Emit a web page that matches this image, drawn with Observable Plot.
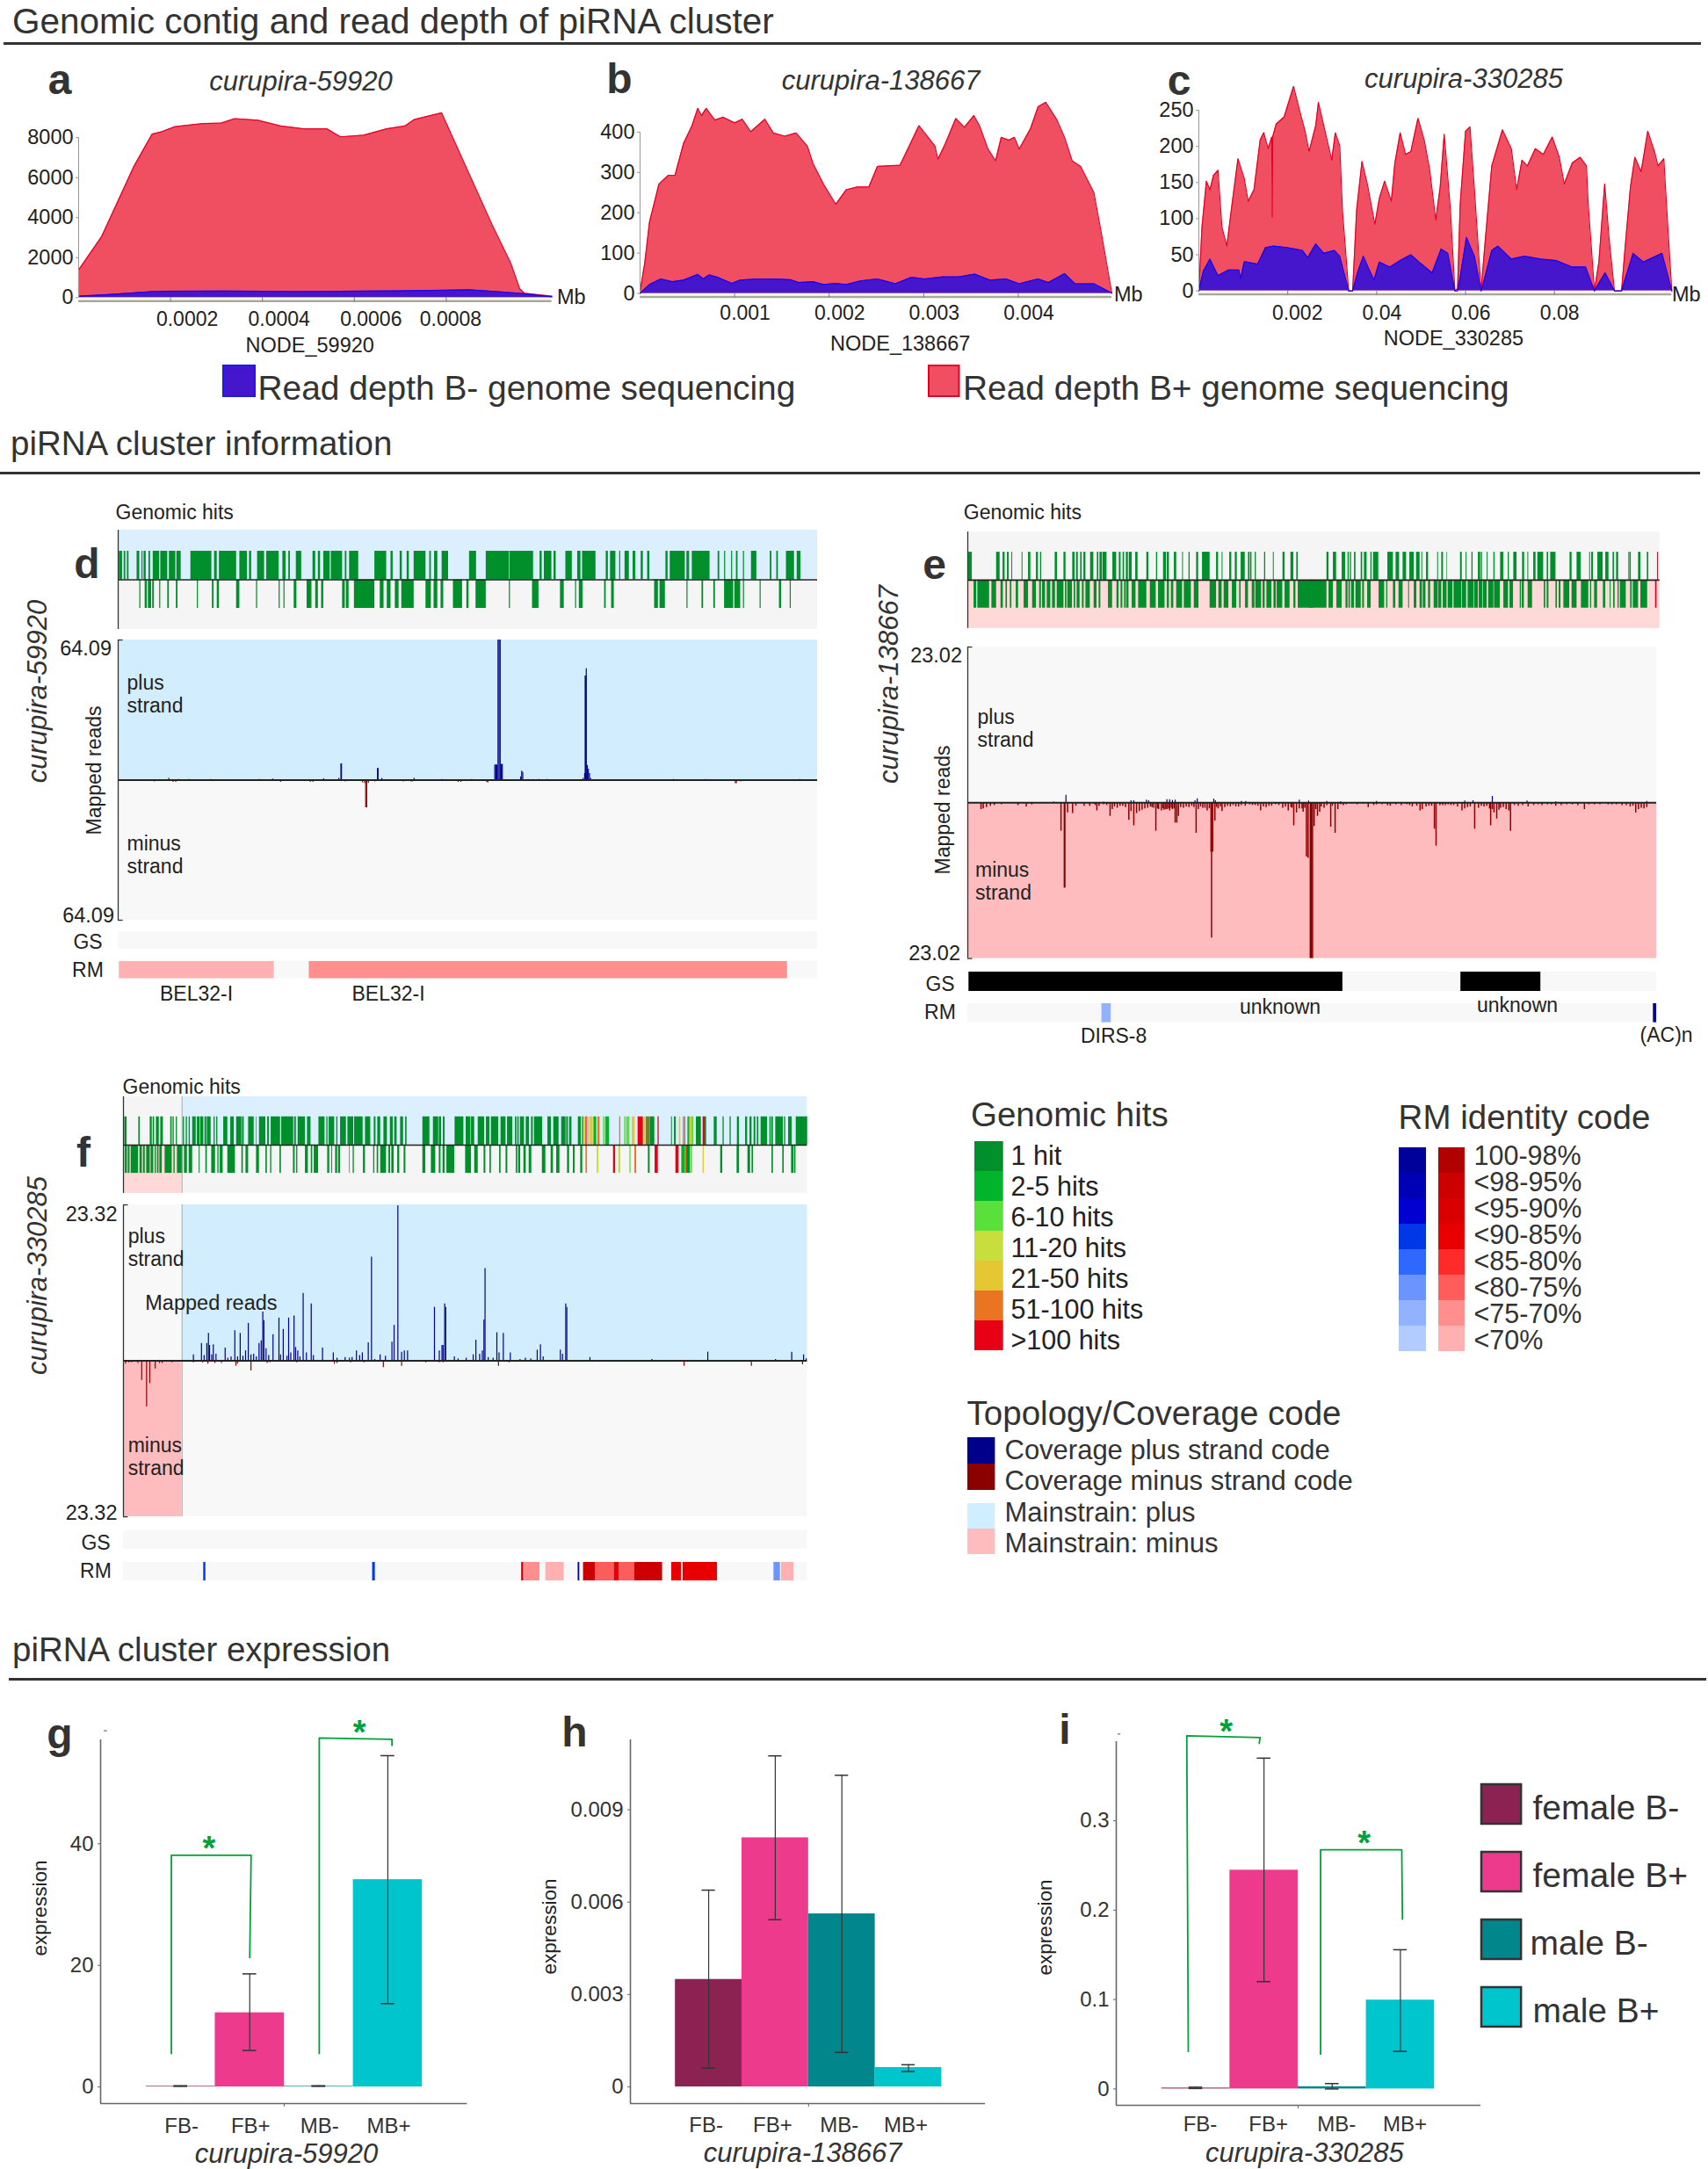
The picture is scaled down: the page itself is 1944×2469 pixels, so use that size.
<!DOCTYPE html>
<html><head><meta charset="utf-8">
<script src="https://cdn.jsdelivr.net/npm/d3@7"></script>
<script src="https://cdn.jsdelivr.net/npm/@observablehq/plot@0.6"></script>
<style>
html,body{margin:0;padding:0;background:#fff}
#page{position:relative;width:1944px;height:2469px;overflow:hidden;font-family:"Liberation Sans",Arial,sans-serif;color:#333}
.lb{position:absolute;white-space:nowrap;line-height:1}
.hr{position:absolute;background:#333}
</style></head><body><div id="page"></div>
<script>
// ---------- Read depth (panels a-c): contig position in Mb, depth
const aRedX=[0,.00005,.00012,.00016,.00018,.00021,.00027,.00031,.00034,.00039,.00044,.00049,.00054,.00057,.00062,.00067,.00071,.00073,.00079,.00084,.0009,.00094,.00096,.00097,.00103];
const aRedY=[1380,3050,6550,8175,8290,8550,8700,8730,8950,8870,8580,8440,8440,8040,8120,8440,8580,8900,9240,6690,3640,1750,440,220,70];
const aBlueX=[0,.00007,.00017,.0003,.0005,.0007,.00085,.0009,.00097,.00103];
const aBlueY=[70,160,320,330,310,340,390,320,200,40];
const bRedX=[0,.00005,.0001,.0002,.0003,.00037,.00046,.00055,.00061,.00065,.0007,.00079,.00088,.001,.00108,.00117,.00132,.00141,.00153,.00165,.00177,.00183,.00194,.00207,.00218,.0023,.00242,.00251,.00275,.00295,.00312,.00315,.00323,.00334,.00343,.00353,.00359,.00368,.00376,.00382,.0039,.00396,.00401,.00413,.00421,.00429,.00441,.00449,.00457,.00466,.0048,.00488,.00499];
const bRedY=[4,76,177,271,293,293,372,416,459,441,459,430,437,423,432,401,432,398,390,398,365,322,271,221,257,264,264,315,318,416,365,333,372,434,412,441,416,358,329,387,380,387,358,409,463,474,430,387,329,315,250,148,0];
const bBlueX=[0,.0001,.00022,.00034,.00046,.00061,.00067,.00073,.00082,.00097,.00106,.00124,.00141,.00159,.00168,.00183,.00194,.00207,.00218,.00233,.00251,.0027,.00287,.00301,.0032,.00337,.00354,.0037,.00387,.00401,.00421,.00432,.00449,.0046,.0048,.00499];
const bBlueY=[0,22,36,29,33,47,36,46,40,25,33,36,36,34,27,29,22,25,22,31,36,24,40,36,41,41,48,33,36,24,36,27,49,24,24,1];
const cRedX=[0,.0007,.0017,.0025,.0033,.0043,.0052,.0063,.0073,.0088,.0102,.0111,.0124,.0138,.0146,.0156,.0164,.0165,.0166,.0174,.0192,.0204,.0213,.0227,.0239,.0248,.0263,.0269,.0281,.0293,.0299,.0307,.0317,.0323,.0337,.0346,.0355,.0367,.0379,.0396,.0406,.0418,.0433,.0441,.0453,.0465,.0477,.0493,.0507,.0519,.0533,.0543,.0552,.0566,.0576,.0582,.0588,.06,.061,.062,.0635,.0643,.0659,.0683,.0703,.0715,.0727,.0739,.0757,.0775,.0795,.0811,.0822,.084,.0858,.0872,.0876,.089,.09,.0913,.0923,.0935,.0951,.0959,.0971,.0981,.0995,.101,.1025,.1033,.1046,.1054,.1064];
const cRedY=[0,88,152,140,160,167,88,62,112,183,156,124,140,209,219,197,213,102,213,231,241,265,283,249,221,193,229,261,229,197,181,219,201,112,0,0,112,179,148,92,128,152,124,177,219,189,193,239,209,169,98,144,217,112,0,3,120,221,227,140,0,60,173,223,197,140,181,173,197,189,213,185,148,177,185,173,120,0,40,148,72,0,0,60,144,185,165,221,193,173,183,100,0];
const cBlueX=[0,.001,.0025,.0043,.0055,.0067,.009,.0094,.0102,.0108,.0132,.015,.0168,.0198,.0233,.0245,.0263,.0281,.0305,.0317,.0337,.0346,.0358,.037,.0382,.0394,.0406,.043,.0453,.0477,.0495,.0525,.0545,.056,.0576,.0582,.0588,.0602,.062,.0635,.0642,.0659,.0673,.0703,.0733,.0769,.0804,.084,.087,.089,.0914,.0935,.0951,.0977,.1,.1042,.1064];
const cBlueY=[0,27,44,21,25,29,29,17,40,40,37,60,62,60,56,46,65,52,56,48,0,0,27,48,31,15,40,33,42,50,40,25,58,52,0,0,19,74,48,0,15,56,62,44,48,44,42,33,33,0,25,0,0,52,40,52,0];

// ---------- Genomic hits, flat start,end lists (track position units)
const dHitsPlus=[220,226,229,232,235,238,253,258,262,264,266,270,275,278,283,295,297,310,313,325,327,335,353,392,397,402,406,438,444,458,462,466,477,490,494,517,524,530,535,538,549,559,580,585,590,594,600,612,614,635,640,643,648,665,695,717,725,729,742,746,755,759,768,790,797,800,806,812,820,832,871,884,902,945,946,990,1002,1006,1010,1024,1028,1032,1050,1062,1072,1078,1081,1106,1125,1129,1133,1143,1150,1152,1160,1168,1175,1180,1190,1194,1202,1206,1236,1240,1244,1272,1275,1280,1285,1318,1333,1336,1345,1347,1358,1360,1367,1370,1380,1382,1395,1405,1430,1433,1442,1445,1460,1475,1480,1487];
const dHitsMinus=[258,260,268,272,274,280,282,285,295,297,310,313,326,329,365,367,393,396,402,406,438,444,475,477,517,519,526,528,545,550,569,578,585,590,596,600,635,640,642,647,657,695,705,712,718,725,733,740,745,768,790,800,805,812,818,823,841,858,866,870,883,902,945,947,988,1000,1040,1047,1068,1070,1075,1082,1122,1125,1135,1140,1215,1222,1225,1235,1275,1277,1303,1306,1325,1328,1345,1362,1364,1375,1380,1382,1411,1413,1447,1451,1467,1469];
const eHitsPlusA=[20,32,115,127,137,144,152,158,167,170,202,205,224,232,251,258,265,269,315,323,345,352,375,383,388,394,402,407,413,420,436,447,459,464,468,476,478,492,512,525,534,540,547,552,558,565,568,578,590,598,628,635,661,665,685,695,698,705,722,730,750,753,772,776,798,805,818,844,866,873,885,888,911,918,930,937,950,964,975,980,982,987,998,1002,1030,1034,1060,1063,1093,1100,1120,1130,1140,1145];
const eHitsPlusB=[58,65,80,91,110,122,130,134,138,142,152,157,175,180,186,195,208,212,217,235,266,285,294,306,318,330,341,356,364,376,382,385,398,405,436,439,450,456,468,470,514,520,533,536,553,557,575,583,585,589,605,608,628,632,651,662,677,681,696,707,726,733,744,747,764,772,778,798,810,815,822,840,888,895,912,926,955,958,962,968,983,1001,1010,1021,1035,1040,1047,1054,1088,1090,1092,1097,1122,1130,1152,1157];
const eHitsMinusA=[38,47,51,91,99,115,130,138,147,152,162,167,182,190,209,224,238,251,262,268,272,282,288,300,306,316,322,345,350,355,358,374,380,385,390,400,408,414,420,435,448,458,465,471,497,511,526,533,540,546,552,558,560,567,578,591,600,628,640,660,668,690,698,705,712,720,730,750,756,780,790,806,844,866,874,885,892,908,920,935,945,950,965,975,988,997,1000,1020,1025,1032,1038,1055,1062,1070,1073,1092,1100,1117,1130,1137,1145,1200];
const eHitsMinusB=[0,58,65,80,92,110,123,130,133,138,142,152,157,175,180,186,197,209,236,255,262,266,285,293,304,318,337,340,356,365,376,384,387,396,405,412,424,438,440,450,455,468,472,488,492,518,520,535,540,560,562,575,578,590,592,605,610,628,630,650,662,678,683,695,718,722,725,732,745,760,800,805,810,816,840,845,851,857,867,887,895,912,927,952,958,962,972,982,1002,1010,1025,1028,1037,1042,1052,1056,1060,1080,1095,1100,1104,1122,1130,1153];
const eHitsPlusRedB=[1187,1190];
const eHitsMinusRedB=[1180,1185];
const fHitsPlusA=[18,26,66,71,105,112,115,120,126,136,141,150,175,180,183,187,194,198,218,222,228,232,238,242,250,262,266,275,277,288,292,298,300,313,323,327,332,336,356,370,380,392,400,418,420,426,441,460,468,470,478,500,506,512,518,550,554,595,598,604,610,635,642,654,681,702,708,712,716,735,742,746,755,775,780,800,803,832,840,858,870,876,882,892,903,915,925,935,940,948,960,970,977,982,1036,1060,1072,1090,1092,1100,1106,1112,1146,1176,1184,1200];
const fHitsMinusA=[14,17,20,27,30,36,40,65,70,78,82,88,93,105,108,117,122,126,130,135,138,146,156,180,186,190,198,218,222,232,238,250,272,275,295,300,315,328,336,340,344,354,370,396,418,423,432,441,468,478,500,505,516,520,548,553,594,600,605,609,635,645,655,660,665,680,711,718,725,728,738,745,748,755,786,788,798,802,833,840,868,872,880,885,892,912,920,926,930,938,950,957,972,978,1036,1046,1065,1080,1092,1098,1105,1112,1118,1145,1182,1200];
const fHitsPlusB=[0,4,17,28,40,62,68,80,85,110,118,135,140,158,167,172,175,180,184,198,204,215,222,228,232,260,278,290,298,316,325,340,342,348,352,360,382,392,396,400,628,643,700,703,710,716,785,802,815,820,846,856,876,880,900,904,925,932,953,960,968,975,982,988,993,998,1006,1028,1036,1040,1042,1048,1056,1082,1086,1090,1100,1112,1126,1165];
const fHitsPlusBBright=[435,445,476,488,756,763];
const fHitsPlusBLime=[468,474,540,545,547,558,770,776];
const fHitsPlusBYellowGreen=[401,407];
const fHitsPlusBYellow=[415,420,422,433,566,576,606,613,763,770,727,732];
const fHitsPlusBOrange=[411,414,449,456,523,527,740,743];
const fHitsPlusBRed=[408,411,586,604,808,815,654,658,745,748];
const fHitsPlusBMixed=[614,628];
const fHitsMinusB=[6,17,28,40,60,66,80,85,113,118,135,141,170,175,178,185,196,204,214,223,259,271,289,297,308,319,345,352,365,371,390,397,621,627,752,764,868,875,924,932,961,970,975,980,1043,1048,1080,1085,1110,1118,1120,1125];
const fHitsMinusBBright=[735,748];
const fHitsMinusBLime=[558,562,765,772];
const fHitsMinusBYellowGreen=[446,452,520,527];
const fHitsMinusBYellow=[808,812];
const fHitsMinusBOrange=[408,413,575,581,748,752];
const fHitsMinusBRed=[502,509,644,655,715,726];

// ---------- Coverage (mapped reads): position, reads
const dPlusPos=[312,330,350,390,480,505,600,628,632,633,700,701,708,768,820,875,918,920,922,924,926,928,930,932,966,968,970,980,1000,1015,1082,1085,1086,1087,1088,1090,1092,1094,1096,1250,1310,1485];
const dPlusVal=[.8,.3,.3,.3,.3,.5,.6,.8,7.4,7.4,5.3,5.3,.8,.8,.3,.3,6.9,6.9,6.9,64.09,64.09,64.09,7.2,7.2,1.5,4.1,3.5,.3,.3,.3,.8,3,47.6,47.6,50.9,6.7,5,3,.8,.3,.3,.3];
const dMinusPos=[285,320,325,520,575,580,640,672,676,678,680,683,695,748,762,765,850,855,903,905,1365,1367,1375];
const dMinusVal=[.8,1,1,1,1,1,.8,1.2,1.5,12.7,12.7,1.5,.8,.8,.8,.8,1,1,1,1.3,1.6,1.6,.8];
const ePlusPos=[380,402,470,520,525,548,552,585,590,595,600,636,640,670,673,720,728,825,842,875,900,965,1125,1140,1175,1238,1290,1455];
const ePlusVal=[.1,1.1,.1,.3,.3,.4,.3,.45,.45,.35,.4,.3,.6,.55,.3,.2,.2,.4,.25,.2,.15,.2,.25,.3,.95,.25,.15,.2];
const eMinusPos=[248,252,258,265,272,285,315,330,340,393,399,400,405,414,420,435,445,458,482,486,495,505,516,520,525,530,535,540,545,550,558,565,570,575,580,585,590,595,600,603,606,615,625,638,642,650,658,665,666,668,672,678,685,690,700,715,740,755,760,775,795,805,815,820,825,832,838,841,845,847,849,852,858,862,870,882,890,895,910,950,975,990,1010,1030,1044,1048,1060,1070,1073,1080,1090,1105,1120,1125,1143,1150,1165,1172,1178,1183,1190,1200,1205,1208,1215,1240,1265,1290,1310,1342,1370,1400,1425,1435,1440,1450];
const eMinusVal=[1,.9,.7,.5,.4,.3,.4,.6,.3,4.2,12.6,12.6,1.5,1.6,.5,.5,.5,1.2,2,1,.8,.5,2.6,1.3,3.4,1.6,1.3,1.1,.9,.8,.7,4.2,1,1.2,1.1,1,1.2,1,3,3,2,.8,.7,4.5,1,.8,1.2,7.3,20,7.3,2.7,.9,1.3,.7,.6,.6,.4,1.2,.6,.5,.8,1.2,3.4,1.5,.9,1.4,8,8.2,23.02,23.02,23.02,3.5,2,1.4,.8,3.6,4.5,1,.3,.7,.3,.5,.4,.6,1.2,1,.5,3.9,6.4,.4,.4,.4,1.2,.9,3.9,.8,.5,3.4,1.5,2.4,.8,1,1.2,4.2,.4,.6,.4,.5,.3,1,.3,.3,.6,1.5,1,.9];
const eMinusDensePos=[455,462,470,476,490,500,510,555,561,568,578,583,588,593,598,610,620,630,634,646,654,662,675,682,695,705,710,720,727,735,745,750,765,770,782,788,800,810,812,830,835,855,865,875,885,900,905,920,930,940,960,965,985,1000,1020,1025,1038,1055,1065,1085,1095,1100,1112,1130,1135,1155,1160,1170,1175,1187,1195,1222,1230,1250,1258,1275,1282,1300,1320,1330,1350,1360,1385,1392,1410,1418,1430,1445,1455];
const eMinusDenseVal=[.4,.5,.3,.4,.6,.5,.7,.6,.8,.9,.9,1,.9,.8,.9,.7,.6,.5,.7,.6,.8,.9,.7,.6,.5,.4,.6,.4,.5,.3,.4,.5,.7,.5,.3,.4,.6,.7,.8,.9,.8,1,.6,.4,.5,.3,.4,.2,.3,.2,.4,.3,.4,.3,.3,.4,.5,.6,.5,.4,.3,.4,.6,.7,.6,.5,.6,.9,1,1.1,.7,.5,.4,.4,.3,.3,.3,.4,.3,.4,.3,.3,.3,.3,.4,.4,.5,.8,.7];
const fPlusPos=[358,373,378,383,386,388,392,395,400,417,422,428,435,440,445,450,455,460,465,470,475,480,484,487,489,493,498,506,517,520,525,532,535,539,545,548,552,556,562,568,577,581,598,618,625,640,648,653,661,667,672,683,689,695,705,715,727,731,738,745,750,756,806,815,820,822,825,827,843,850,865,878,883,890,895,898,900,906,915,922,926,934,947,965,975,985,997,1003,1008,1040,1044,1050,1052,1095,1210,1314,1440,1470,1492,1497];
const fPlusVal=[.9,2.6,.8,2.6,4.1,2.3,.9,2.4,1,1.9,.4,.6,4.5,.6,4.1,.7,1.5,5.6,.9,1,.6,2.6,3,7.3,6,1.8,.8,3.9,6.4,.9,4.7,.7,6.4,1.2,6.7,2,1.5,.6,10.1,1.2,8.5,.8,1.9,1.2,.4,.5,.4,.5,1.5,.8,1.2,2.7,15.5,.2,.9,.7,2.8,5.3,23.2,1.3,1.5,1.5,8,1.5,2.3,2.3,8.5,8,.6,.3,.4,.9,3.1,1,1.5,6.1,13.8,.5,.4,4.2,1.2,4.1,1.2,.2,.4,.3,1.6,2.4,.6,1.6,1,8.5,8,.5,.2,1.3,.2,1.3,.9,.3];
const fMinusPos=[232,238,243,255,262,271,277,287,295,300,318,340,358,375,385,398,410,437,440,465,495,500,550,580,620,625,650,675,711,745,790,815,822,925,945,968,1070,1270,1395,1490];
const fMinusVal=[.5,.3,.3,.4,2.9,6.9,3.4,1.2,.4,.4,.3,.2,.3,.3,.5,.4,.4,.8,.5,1.5,.4,.3,.3,.2,.5,.4,.3,.3,1,.8,.3,.3,.3,.8,.3,.2,.2,.8,.8,.6];

// ---------- RepeatMasker and GS features: start, end, identity colour
const dRmStart=[220,573], dRmEnd=[508,1462], dRmClass=["<70%","<75-70%"];
const eGsStart=[226,1118], eGsEnd=[904,1263];
const eRmStart=[467,1467], eRmEnd=[484,1473], eRmClass=["b<75-70%","b100-98%"];
const fRmStart=[377,691,968,972,1013,1073,1083,1105,1140,1150,1178,1247,1268,1437,1451];
const fRmEnd=[381,696,972,1002,1047,1076,1105,1140,1150,1178,1230,1265,1332,1449,1474];
const fRmClass=["b<90-85%","b<90-85%","<98-95%","<75-70%","<70%","b100-98%","<98-95%","<80-75%","<90-85%","<80-75%","<98-95%","<90-85%","<90-85%","b<80-75%","<70%"];

// ---------- Legends
const hitLabels=["1 hit","2-5 hits","6-10 hits","11-20 hits","21-50 hits","51-100 hits",">100 hits"];
const hitColors=["#008f2a","#00b52c","#5ae03a","#c8de3c","#e5c633","#e97422","#e80014"];
const rmLabels=["100-98%","<98-95%","<95-90%","<90-85%","<85-80%","<80-75%","<75-70%","<70%"];
const rmBlues=["#00009a","#0000b4","#0000d0","#0038e8","#2f68ff","#6b94ff","#92b2ff","#b3ccff"];
const rmReds=["#b00000","#cc0000","#d80000","#e80000","#ff2a2a","#ff5c5c","#ff8e8e","#ffb0b0"];
const covLabels=["Coverage plus strand code","Coverage minus strand code"], covColors=["#00008b","#8b0000"];
const mainLabels=["Mainstrain: plus","Mainstrain: minus"], mainColors=["#cfeeff","#ffbcbe"];
const groupLabels=["female B-","female B+","male B-","male B+"];
const groupColors=["#8b2252","#ee3a8c","#00868b","#00c5cd"];

// ---------- Expression (panels g-i)
const barLabels=["FB-","FB+","MB-","MB+"];
const gMean=[.1,12.2,.1,34.1], gLow=[.1,6,.1,13.7], gHigh=[.2,18.6,.2,54.5];
const hMean=[.00349,.00809,.00562,.00063], hLow=[.00061,.00543,.00112,.0005], hHigh=[.00639,.01075,.01012,.00072];
const iMean=[.001,.2447,.0025,.0994], iLow=[.0005,.12,0,.042], iHigh=[.002,.37,.006,.1557];

// ---------- helpers
const page=document.getElementById("page");
const FONT='"Liberation Sans",Arial,sans-serif';
const M={l:70,r:20,t:10,b:50};
function place(x0,y0,x1,y1,options){
  const svg=Plot.plot({width:x1-x0+M.l+M.r,height:y1-y0+M.t+M.b,marginLeft:M.l,marginRight:M.r,marginTop:M.t,marginBottom:M.b,
    color:{type:"identity"},...options});
  svg.style.cssText=`position:absolute;left:${x0-M.l}px;top:${y0-M.t}px;background:transparent;overflow:visible;max-width:none;font-family:${FONT}`;
  page.appendChild(svg);return svg;
}
function label(text,x,y,o={}){
  const d=document.createElement("div");d.className="lb";d.textContent=text;
  const size=o.size||23;const a=o.anchor||"start";
  const tx=a==="start"?"0":a==="end"?"-100%":"-50%";
  d.style.cssText=`left:${x}px;top:${y}px;font-size:${size}px;color:${o.color||"#222"};`+(o.lh?`line-height:${o.lh}px;`:"")+
    `font-weight:${o.weight||"normal"};font-style:${o.italic?"italic":"normal"};transform:translate(${tx},-50%)${o.rotate?` rotate(${o.rotate}deg)`:""}`;
  page.appendChild(d);
}
function hr(x0,x1,y){const d=document.createElement("div");d.className="hr";d.style.cssText=`left:${x0}px;width:${x1-x0}px;top:${y-1.5}px;height:3px`;page.appendChild(d);}
const zip=(xs,ys)=>xs.map((x,i)=>({x,v:ys[i]}));
const pairs=(flat,off=0)=>{const r=[];for(let i=0;i<flat.length;i+=2)r.push([flat[i]+off,flat[i+1]+off]);return r;};
const rmColor=k=>k[0]==="b"?rmBlues[rmLabels.indexOf(k.slice(1))]:rmReds[rmLabels.indexOf(k)];

// ---------- headers
const HD="#333";
label("Genomic contig and read depth of piRNA cluster",14,23.5,{size:40.5,color:HD,lh:33});hr(4,1936,49.5);
label("piRNA cluster information",12,504.5,{size:38.5,color:HD});hr(0,1935,538);
label("piRNA cluster expression",14,1878,{size:38.5,color:HD});hr(10,1942,1911);

// ---------- depth panels
function depth(p){
  const blue=zip(p.bx,p.by),red=zip(p.rx,p.ry);
  place(p.x0,p.top,p.x1,p.bottom,{
    x:{domain:[0,p.xMax],axis:null},y:{domain:[0,p.yMax],axis:null},
    marks:[
      Plot.areaY(red,{x:"x",y1:0,y2:"v",fill:"#f04f62"}),
      Plot.lineY(red,{x:"x",y:"v",stroke:"#e60026",strokeWidth:1.2}),
      Plot.areaY(blue,{x:"x",y1:0,y2:"v",fill:"#4516cc"}),
      Plot.lineY(blue,{x:"x",y:"v",stroke:"#1a00f0",strokeWidth:1.2}),
      Plot.ruleX([0],{y1:0,y2:p.yTop,stroke:"#999"}),
      Plot.ruleY([0],{dy:4,stroke:"#a8a89c",strokeWidth:2.5}),
      Plot.axisY(p.yTicks,{tickSize:3,tickPadding:3,fontSize:23.5,color:"#222",label:null,stroke:"#999",tickFormat:d=>String(d)}),
      Plot.axisX(p.xTicks,{tickSize:5,tickFormat:()=>"",label:null,stroke:"#777"}),
      ...p.xLabels.map(([vals,fmt,dx])=>Plot.axisX(vals,{tickSize:0,tickPadding:p.pad,dx,tickFormat:fmt,fontSize:23,color:"#222",label:null}))
    ]});
}
depth({x0:89.3,x1:628,top:122,bottom:338.3,pad:15.5,xMax:.00103,yMax:9500,yTop:8000,rx:aRedX,ry:aRedY,bx:aBlueX,by:aBlueY,
  yTicks:[0,2000,4000,6000,8000],xTicks:[.0002,.0004,.0006,.0008],
  xLabels:[[[.0002,.0004,.0006],d=>d.toFixed(4),19],[[.0008],d=>d.toFixed(4),5]]});
depth({x0:728,x1:1265,top:103.8,bottom:333.3,pad:14,xMax:.00499,yMax:500,yTop:400,rx:bRedX,ry:bRedY,bx:bBlueX,by:bBlueY,
  yTicks:[0,100,200,300,400],xTicks:[.001,.002,.003,.004],
  xLabels:[[[.001,.002,.003,.004],d=>d.toFixed(3),12]]});
depth({x0:1363.6,x1:1901.9,top:84.4,bottom:331,pad:17,xMax:.1064,yMax:300,yTop:250,rx:cRedX,ry:cRedY,bx:cBlueX,by:cBlueY,
  yTicks:[0,50,100,150,200,250],xTicks:[.02,.04,.06,.08],
  xLabels:[[[.02],()=>"0.002",11],[[.04,.06,.08],d=>d.toFixed(2),6]]});
const BOLD={size:48,weight:"bold",color:"#333",anchor:"middle"};
label("a",68,91,BOLD);label("b",705,90,BOLD);label("c",1342,92,BOLD);
label("curupira-59920",342.5,92,{size:31,italic:true,anchor:"middle",color:HD});
label("curupira-138667",1002.6,91,{size:31,italic:true,anchor:"middle",color:HD});
label("curupira-330285",1666,89,{size:31,italic:true,anchor:"middle",color:HD});
label("NODE_59920",352.7,393.5,{size:23.5,anchor:"middle"});
label("NODE_138667",1024.7,391.5,{size:23.5,anchor:"middle"});
label("NODE_330285",1654.4,385.5,{size:23.5,anchor:"middle"});
label("Mb",634,339,{size:23.5});label("Mb",1268,336,{size:23.5});label("Mb",1903,336,{size:23.5});

// read-depth legend
function depthKey(x0,x1,fill,stroke,text){
  place(x0,416,x1,451,{x:{axis:null},y:{domain:[text],axis:null,padding:0},marks:[
    Plot.cell([text],{y:d=>d,fill,stroke,strokeWidth:2})]});
}
depthKey(254,290,"#4516cc","#1a1aee","Read depth B- genome sequencing");
depthKey(1057,1091.5,"#f04f62","#e60026","Read depth B+ genome sequencing");
label("Read depth B- genome sequencing",293.5,441.5,{size:38.9,color:HD});
label("Read depth B+ genome sequencing",1096,441.5,{size:38.9,color:HD});

// ---------- genome-browser tracks
function hits(f){
  place(f.x0,f.y0,f.x1,f.y1,{x:{domain:f.domain,axis:null},y:{domain:[-1,1],axis:null},marks:[
    ...f.bg.map(b=>Plot.rect([0],{x1:b[0],x2:b[1],y1:b[2],y2:b[3],fill:b[4]})),
    ...f.bars.map(([list,sign,color])=>Plot.rect(list,{x1:d=>d[0],x2:d=>d[1],y1:0,y2:sign*f.h,fill:color})),
    ...(f.split?[Plot.ruleX([f.split],{stroke:"#aaa"})]:[]),
    Plot.ruleY([0],{stroke:"#222",strokeWidth:1.6}),
    Plot.ruleX([f.domain[0]],{stroke:"#333",strokeWidth:1.3})
  ]});
}
function coverage(f){
  const m=f.max,w=(f.domain[1]-f.domain[0])*.007;
  place(f.x0,f.y0,f.x1,f.y1,{x:{domain:f.domain,axis:null},y:{domain:[-m,m],axis:null},marks:[
    ...f.bg.map(b=>Plot.rect([0],{x1:b[0],x2:b[1],y1:b[2]*m,y2:b[3]*m,fill:b[4]})),
    ...(f.split?[Plot.ruleX([f.split],{stroke:"#aaa"})]:[]),
    Plot.ruleX(zip(f.minusPos,f.minusVal),{x:"x",y1:0,y2:d=>-d.v,stroke:"#8b0000",strokeWidth:f.sw||1.2}),
    Plot.ruleX(zip(f.plusPos,f.plusVal),{x:"x",y1:0,y2:"v",stroke:"#00008b",strokeWidth:1.2}),
    Plot.ruleY([0],{stroke:"#222",strokeWidth:2}),
    Plot.ruleX([f.domain[0]],{stroke:"#333",strokeWidth:1.3}),
    Plot.ruleY([m,-m],{x1:f.domain[0],x2:f.domain[0]+w,stroke:"#333",strokeWidth:1.3})
  ]});
}
function strip(x0,x1,y0,y1,domain,bg,segs){
  place(x0,y0,x1,y1,{x:{domain,axis:null},y:{domain:[0,1],axis:null},marks:[
    Plot.rect([0],{x1:domain[0],x2:domain[1],y1:0,y2:1,fill:bg}),
    Plot.rect(segs,{x1:"s",x2:"e",y1:0,y2:1,fill:"c"})
  ]});
}
const segs=(s,e,c)=>s.map((v,i)=>({s:v,e:e[i],c:typeof c==="string"?c:rmColor(c[i])}));

// panel d
const G1=hitColors[0],PLUSBG="#dcefff",MINUSBG="#f5f5f5",PINKBG="#ffd8d8";
hits({x0:133.5,x1:929.6,y0:603,y1:716,domain:[218,1518],h:.576,
  bg:[[218,1518,0,1,PLUSBG],[218,1518,-1,0,MINUSBG]],
  bars:[[pairs(dHitsPlus),1,G1],[pairs(dHitsMinus),-1,G1]]});
coverage({x0:133.5,x1:929.6,y0:728,y1:1047,domain:[218,1518],max:64.09,
  bg:[[218,1518,0,1,"#d2edfd"],[218,1518,-1,0,"#f8f8f8"]],
  plusPos:dPlusPos,plusVal:dPlusVal,minusPos:dMinusPos,minusVal:dMinusVal});
strip(133.5,929.6,1060,1080,[218,1518],"#f8f8f8",[]);
strip(133.5,929.6,1093.5,1113,[218,1518],"#f8f8f8",segs(dRmStart,dRmEnd,dRmClass));
label("Genomic hits",131.6,583);label("d",99,642,BOLD);
label("curupira-59920",41.6,787,{size:31,italic:true,anchor:"middle",rotate:-90,color:HD});
label("Mapped reads",107,877,{anchor:"middle",rotate:-90});
label("64.09",127,739,{anchor:"end",size:23.5});label("64.09",130,1043,{anchor:"end",size:23.5});
label("plus",144.5,777);label("strand",144.5,803);label("minus",144.5,960);label("strand",144.5,986);
label("GS",100,1072,{anchor:"middle"});label("RM",100,1104,{anchor:"middle"});
label("BEL32-I",223.5,1130.6,{anchor:"middle"});label("BEL32-I",442,1130.6,{anchor:"middle"});

// panel e (hit lists in 1/3-px units, second half offset by 1185)
hits({x0:1100.6,x1:1888.4,y0:605,y1:714.8,domain:[16.8,2380.2],h:.58,
  bg:[[16.8,2380.2,0,1,MINUSBG],[16.8,2380.2,-1,0,PINKBG]],
  bars:[[pairs(eHitsPlusA),1,G1],[pairs(eHitsPlusB,1185),1,G1],[pairs(eHitsMinusA),-1,G1],[pairs(eHitsMinusB,1185),-1,G1],
        [pairs(eHitsPlusRedB,1185),1,hitColors[6]],[pairs(eHitsMinusRedB,1185),-1,hitColors[6]]]});
coverage({x0:1100.6,x1:1884.7,y0:736.4,y1:1091,domain:[224,1473],max:23.02,sw:1.5,
  bg:[[224,1473,0,1,"#f8f8f8"],[224,1473,-1,0,"#ffbcbe"]],
  plusPos:ePlusPos,plusVal:ePlusVal,minusPos:eMinusPos.concat(eMinusDensePos),minusVal:eMinusVal.concat(eMinusDenseVal)});
strip(1100.6,1884.7,1106,1128,[224,1473],"#f8f8f8",segs(eGsStart,eGsEnd,"#000"));
strip(1100.6,1884.7,1142,1163.6,[224,1473],"#f8f8f8",segs(eRmStart,eRmEnd,eRmClass));
label("Genomic hits",1096.8,583.4);label("e",1063.6,643,BOLD);
label("curupira-138667",1011,778.5,{size:31,italic:true,anchor:"middle",rotate:-90,color:HD});
label("Mapped reads",1073,922,{anchor:"middle",rotate:-90});
label("23.02",1095,747,{anchor:"end",size:23.5});label("23.02",1093,1086,{anchor:"end",size:23.5});
label("plus",1112.5,816);label("strand",1112.5,842);label("minus",1110,990);label("strand",1110,1016);
label("GS",1070,1120,{anchor:"middle"});label("RM",1070,1152,{anchor:"middle"});
label("unknown",1457,1146,{anchor:"middle"});label("unknown",1727,1144,{anchor:"middle"});
label("DIRS-8",1267.6,1179,{anchor:"middle"});label("(AC)n",1896.6,1177.5,{anchor:"middle"});

// panel f
const [,G2,G3,G4,G5,G6,G7]=hitColors;
hits({x0:139.6,x1:918,y0:1247.6,y1:1357.5,domain:[13.8,2349],h:.585,split:214,
  bg:[[13.8,214,0,1,MINUSBG],[214,2349,0,1,PLUSBG],[214,2349,-1,0,MINUSBG],[13.8,214,-1,0,PINKBG]],
  bars:[[pairs(fHitsPlusA),1,G1],[pairs(fHitsPlusB,1185),1,G1],[pairs(fHitsMinusA),-1,G1],[pairs(fHitsMinusB,1185),-1,G1],
    [pairs(fHitsPlusBBright,1185),1,G2],[pairs(fHitsPlusBLime,1185),1,G3],[pairs(fHitsPlusBYellowGreen,1185),1,G4],[pairs(fHitsPlusBYellow,1185),1,G5],[pairs(fHitsPlusBOrange,1185),1,G6],[pairs(fHitsPlusBRed,1185),1,G7],[pairs(fHitsPlusBMixed,1185),1,"#6f7f35"],
    [pairs(fHitsMinusBBright,1185),-1,G2],[pairs(fHitsMinusBLime,1185),-1,G3],[pairs(fHitsMinusBYellowGreen,1185),-1,G4],[pairs(fHitsMinusBYellow,1185),-1,G5],[pairs(fHitsMinusBOrange,1185),-1,G6],[pairs(fHitsMinusBRed,1185),-1,G7]]});
coverage({x0:139.6,x1:918,y0:1371.3,y1:1726.4,domain:[228,1499],max:23.32,split:337,
  bg:[[228,337,0,1,"#f8f8f8"],[337,1499,0,1,"#d2edfd"],[228,337,-1,0,"#ffbcbe"],[337,1499,-1,0,"#f8f8f8"]],
  plusPos:fPlusPos,plusVal:fPlusVal,minusPos:fMinusPos,minusVal:fMinusVal});
strip(139.6,918,1742,1762.8,[228,1499],"#f8f8f8",[]);
strip(139.6,918,1778,1799,[228,1499],"#f8f8f8",segs(fRmStart,fRmEnd,fRmClass));
label("Genomic hits",139.6,1237);label("f",95,1312,BOLD);
label("curupira-330285",41.6,1452,{size:31,italic:true,anchor:"middle",rotate:-90,color:HD});
label("Mapped reads",165.3,1483.6,{size:23.5});
label("23.32",133.5,1383,{anchor:"end",size:23.5});label("23.32",133.5,1723,{anchor:"end",size:23.5});
label("plus",145.7,1406.5);label("strand",145.7,1433.4);label("minus",145.7,1645);label("strand",145.7,1671.4);
label("GS",109,1755.7,{anchor:"middle"});label("RM",109,1788,{anchor:"middle"});

// ---------- legends
function keyColumn(x0,x1,y0,y1,rows,colors){
  const items=rows.map((r,i)=>({r,c:colors[i]}));
  place(x0,y0,x1,y1,{x:{axis:null},y:{type:"band",domain:rows,axis:null,padding:0},marks:[Plot.cell(items,{y:"r",fill:"c"})]});
}
function keyText(x,y0,y1,rows,size,color){
  place(x,y0,x+200,y1,{x:{axis:null},y:{type:"band",domain:rows,axis:null,padding:0},marks:[
    Plot.text(rows,{y:d=>d,text:d=>d,frameAnchor:"left",textAnchor:"start",fontSize:size,fill:color})]});
}
label("Genomic hits",1105,1269,{size:38.5,color:HD});
keyColumn(1109,1141.7,1298,1537,hitLabels,hitColors);
keyText(1150,1297.4,1543.6,hitLabels,30.5,"#222");
label("RM identity code",1591.6,1272,{size:38.5,color:HD});
keyColumn(1591.6,1622.6,1302.5,1540.7,rmLabels,rmBlues);
keyColumn(1637,1667,1302.5,1540.7,rmLabels,rmReds);
keyText(1677,1300,1542,rmLabels,30.5,"#333");
label("Topology/Coverage code",1100.6,1609,{size:38.5,color:HD});
keyColumn(1100.6,1132,1636.4,1697,covLabels,covColors);
keyText(1143,1633.3,1703.7,covLabels,31,"#333");
keyColumn(1100.6,1132,1711.4,1770,mainLabels,mainColors);
keyText(1143,1703.5,1773.5,mainLabels,31,"#333");

// ---------- expression bars
function bars(p){
  const data=barLabels.map((l,i)=>({l,x:i+1,m:p.mean[i],lo:p.low[i],hi:p.high[i],c:groupColors[i]}));
  const brackets=p.brackets||[];
  place(p.x0,p.y0,p.x1,p.y1,{x:{domain:p.xDomain,axis:null},y:{domain:p.yDomain,axis:null},marks:[
    Plot.rect(data,{x1:d=>d.x-.5,x2:d=>d.x+.5,y1:0,y2:"m",fill:"c"}),
    Plot.ruleX(data,{x:"x",y1:"lo",y2:"hi",stroke:"#333",strokeWidth:1.2}),
    Plot.ruleY(data,{y:"lo",x1:d=>d.x-.1,x2:d=>d.x+.1,stroke:"#333",strokeWidth:1.5}),
    Plot.ruleY(data,{y:"hi",x1:d=>d.x-.1,x2:d=>d.x+.1,stroke:"#333",strokeWidth:1.5}),
    Plot.ruleX([p.xDomain[0]],{stroke:"#666",strokeWidth:1.6}),
    Plot.ruleY([p.yDomain[0]],{stroke:"#666",strokeWidth:1.6}),
    Plot.axisY(p.ticks,{tickSize:3,tickPadding:5,fontSize:24,color:"#333",label:null,stroke:"#666",tickFormat:d=>d===0?"0":String(d)}),
    Plot.axisX([2.5],{tickSize:4,tickFormat:()=>"",label:null,stroke:"#666"}),
    Plot.text(data,{x:"x",y:p.yDomain[0],text:"l",dy:p.labelDy,dx:p.labelDx||0,fontSize:24,fill:"#333"}),
    ...brackets.map(b=>Plot.line(b,{x:d=>d[0],y:d=>d[1],stroke:"#00a03c",strokeWidth:1.8})),
    ...(p.stars?[Plot.text(p.stars,{x:d=>d[0],y:d=>d[1],text:()=>"*",fontSize:38,fontWeight:"bold",fill:"#00a03c",dy:6})]:[]),
    ...(p.dash?[Plot.ruleY([p.dash[0]],{x1:p.dash[1],x2:p.dash[2],stroke:"#555"})]:[])
  ]});
}
const gBrackets=[[[.865,5.5],[.865,38.1],[2.02,38.1],[2,21.3]],[[3.007,5.5],[3.007,57.4],[4.06,57.2],[4.06,56.2]]];
const gStars=[[1.41,40],[3.59,59.1]];
const iBrackets=[[[.89,.042],[.868,.395],[1.943,.393],[1.93,.3865]],[[2.83,.039],[2.83,.2676],[4.02,.2676],[4.03,.19]]];
const iStars=[[1.445,.405],[3.47,.2797]];
bars({x0:113.7,x1:531,y0:1980.4,y1:2394.4,xDomain:[-.16,5.15],yDomain:[-2.73,57.1],mean:gMean,low:gLow,high:gHigh,ticks:[0,20,40],labelDx:1,labelDy:25.5,brackets:gBrackets,stars:gStars,dash:[58.6,-.11,-.06]});
bars({x0:716.5,x1:1120.5,y0:1980.4,y1:2394.4,xDomain:[-.175,5.154],yDomain:[-.00054,.01127],mean:hMean,low:hLow,high:hHigh,ticks:[0,.003,.006,.009],labelDx:-3,labelDy:25});
bars({x0:1270,x1:1685,y0:1981.6,y1:2395.6,xDomain:[-.166,5.18],yDomain:[-.0183,.3885],mean:iMean,low:iLow,high:iHigh,ticks:[0,.1,.2,.3],labelDx:5,labelDy:21.5,brackets:iBrackets,stars:iStars,dash:[.397,-.14,-.1]});
label("g",68,1974,BOLD);label("h",654,1972,BOLD);label("i",1212,1969,BOLD);
label("expression",45.6,2172,{size:22.5,anchor:"middle",rotate:-90});
label("expression",626,2193,{size:22.5,anchor:"middle",rotate:-90});
label("expression",1190,2194,{size:22.5,anchor:"middle",rotate:-90});
label("curupira-59920",326,2450.5,{size:31,italic:true,anchor:"middle",color:HD});
label("curupira-138667",913.7,2449.7,{size:31,italic:true,anchor:"middle",color:HD});
label("curupira-330285",1484.8,2449.7,{size:31,italic:true,anchor:"middle",color:HD});
// group key
const items=groupLabels.map((r,i)=>({r,c:groupColors[i]}));
place(1685.6,2030.6,1730.8,2307.5,{x:{axis:null},y:{domain:groupLabels,axis:null,paddingInner:.412,paddingOuter:0},marks:[
  Plot.cell(items,{y:"r",fill:"c",stroke:"#333",strokeWidth:2.5}),
  Plot.text(items.filter(d=>d.r!=="male B-"),{y:"r",text:"r",frameAnchor:"left",textAnchor:"start",dx:58,dy:4.5,fontSize:39,fill:"#333"}),
  Plot.text(items.filter(d=>d.r==="male B-"),{y:"r",text:"r",frameAnchor:"left",textAnchor:"start",dx:55,dy:4.5,fontSize:39,fill:"#333"})
]});
</script></body></html>
